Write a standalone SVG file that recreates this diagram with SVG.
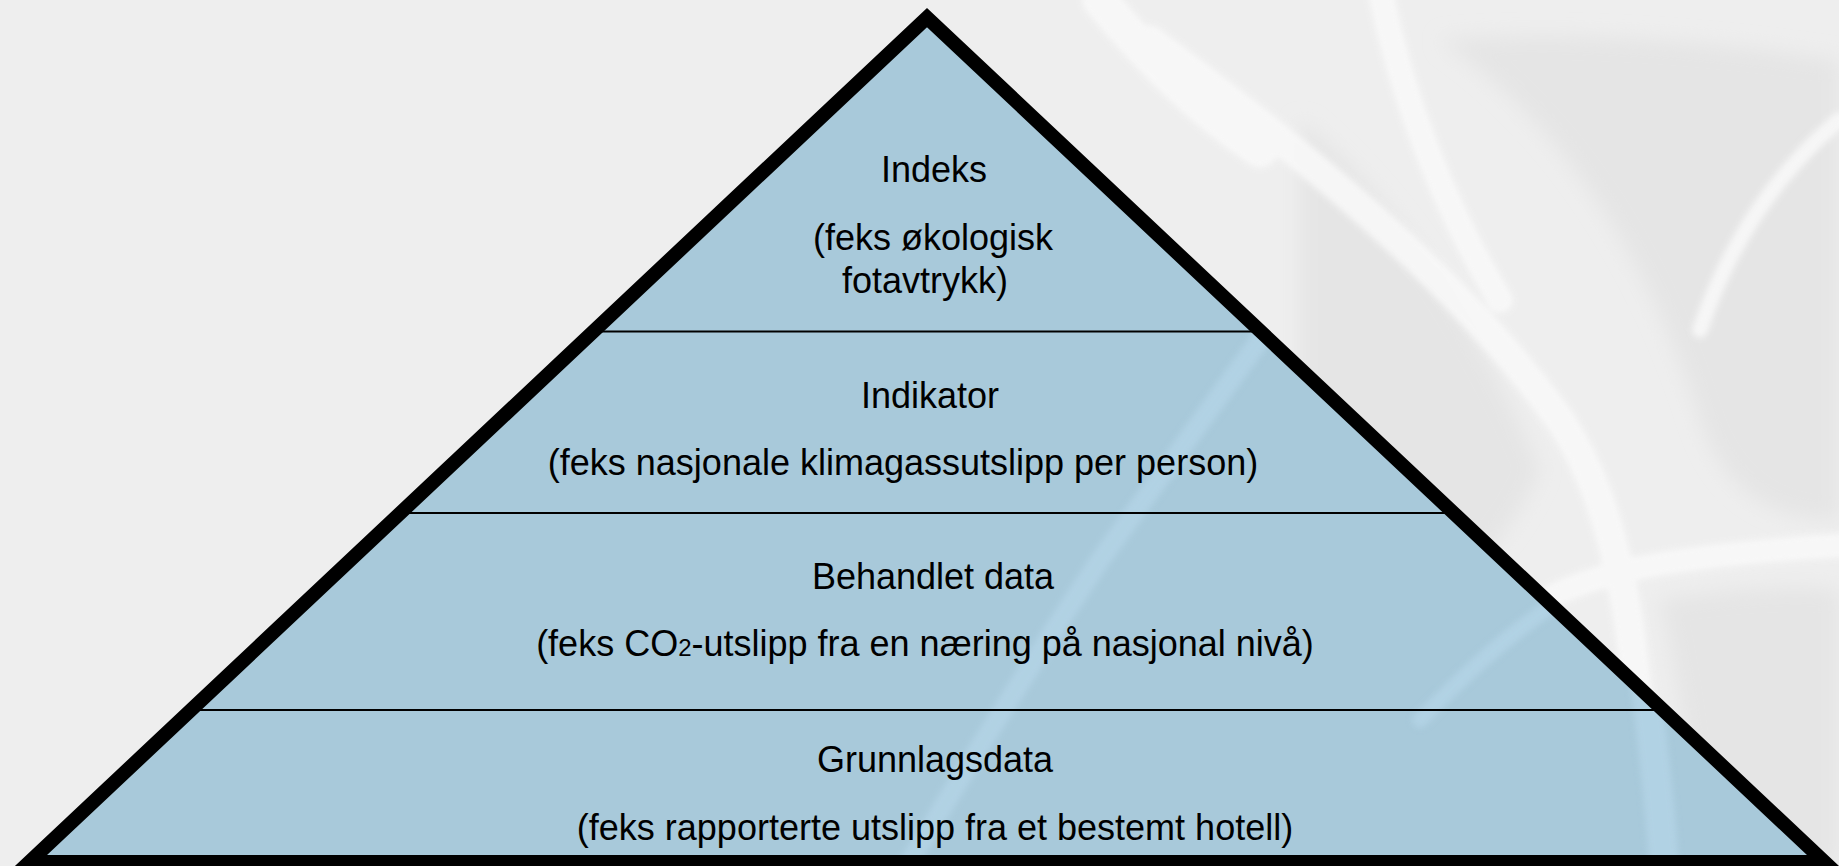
<svg xmlns="http://www.w3.org/2000/svg" width="1839" height="866" viewBox="0 0 1839 866">
  <style>
    .lbl { font-family: "Liberation Sans", Arial, sans-serif; font-size: 36px; fill: #000; text-anchor: middle; }
    .div { stroke: #000; stroke-width: 2; fill: none; }
    .band { stroke: #f9f9f9; fill: none; stroke-linecap: round; stroke-linejoin: round; }
    .streak { stroke: #b6d6e8; fill: none; stroke-linecap: round; }
  </style>
  <defs>
    <filter id="soft" filterUnits="userSpaceOnUse" x="0" y="0" width="1839" height="866">
      <feGaussianBlur stdDeviation="10"/>
    </filter>
    <filter id="soft2" filterUnits="userSpaceOnUse" x="0" y="0" width="1839" height="866">
      <feGaussianBlur stdDeviation="3"/>
    </filter>
    <clipPath id="inside">
      <polygon points="927,27 40,855 1814,855"/>
    </clipPath>
  </defs>
  <rect width="1839" height="866" fill="#eeeeee"/>
  <g id="background-texture">
    <g filter="url(#soft)" fill="#e5e5e5">
      <path d="M1300 120 C1400 200 1480 330 1540 470 C1500 560 1440 600 1380 640 L1300 560 Z"/>
      <path d="M1440 40 C1560 120 1650 260 1700 420 C1720 480 1760 520 1839 520 L1839 60 C1700 40 1560 30 1440 40 Z"/>
      <path d="M1660 600 C1720 590 1790 585 1839 590 L1839 866 L1700 866 C1690 780 1680 680 1660 600 Z"/>
    </g>
    <g filter="url(#soft2)" opacity="0.85">
      <path class="band" stroke-width="30" d="M1150 40 C1300 150 1460 280 1560 420 C1620 510 1640 640 1650 880"/>
      <path class="band" stroke-width="26" d="M1380 -10 C1400 90 1440 200 1500 300"/>
      <path class="band" stroke-width="24" d="M1850 545 C1760 550 1680 558 1620 572 C1570 585 1540 600 1510 620"/>
      <path class="band" stroke-width="16" d="M1839 120 C1780 170 1730 240 1700 330"/>
      <path class="band" stroke-width="36" d="M1100 0 C1150 60 1200 110 1260 150"/>
    </g>
  </g>
  <g id="pyramid-fill">
    <polygon points="927,17.6 29.4,862 1824.6,862" fill="#a8c9da"/>
    <g clip-path="url(#inside)">
      <g filter="url(#soft2)" opacity="0.7">
        <path class="streak" stroke-width="20" d="M1300 285 L1100 560 Q1000 710 905 870"/>
        <path class="streak" stroke-width="30" d="M1640 640 C1650 720 1660 800 1665 880"/>
        <path class="streak" stroke-width="16" d="M1560 600 C1500 640 1460 680 1420 720"/>
      </g>
    </g>
  </g>
  <g id="connectors">
    <line class="div" x1="593" y1="331.5" x2="1261" y2="331.5"/>
    <line class="div" x1="400" y1="513" x2="1454" y2="513"/>
    <line class="div" x1="191" y1="710" x2="1663" y2="710"/>
  </g>
  <g id="level-indeks">
    <text class="lbl" x="934" y="182">Indeks</text>
    <text class="lbl" x="933" y="250">(feks økologisk</text>
    <text class="lbl" x="925" y="293">fotavtrykk)</text>
  </g>
  <g id="level-indikator">
    <text class="lbl" x="930" y="408">Indikator</text>
    <text class="lbl" x="903" y="475">(feks nasjonale klimagassutslipp per person)</text>
  </g>
  <g id="level-behandlet">
    <text class="lbl" x="933" y="589">Behandlet data</text>
    <text class="lbl" x="925" y="656">(feks CO<tspan font-size="24">2</tspan>-utslipp fra en næring på nasjonal nivå)</text>
  </g>
  <g id="level-grunnlag">
    <text class="lbl" x="935" y="772">Grunnlagsdata</text>
    <text class="lbl" x="935" y="840">(feks rapporterte utslipp fra et bestemt hotell)</text>
  </g>
  <g id="pyramid-outline">
    <polygon points="927,17.6 29.4,862 1824.6,862" fill="none" stroke="#000" stroke-width="14" stroke-linejoin="miter"/>
  </g>
</svg>
